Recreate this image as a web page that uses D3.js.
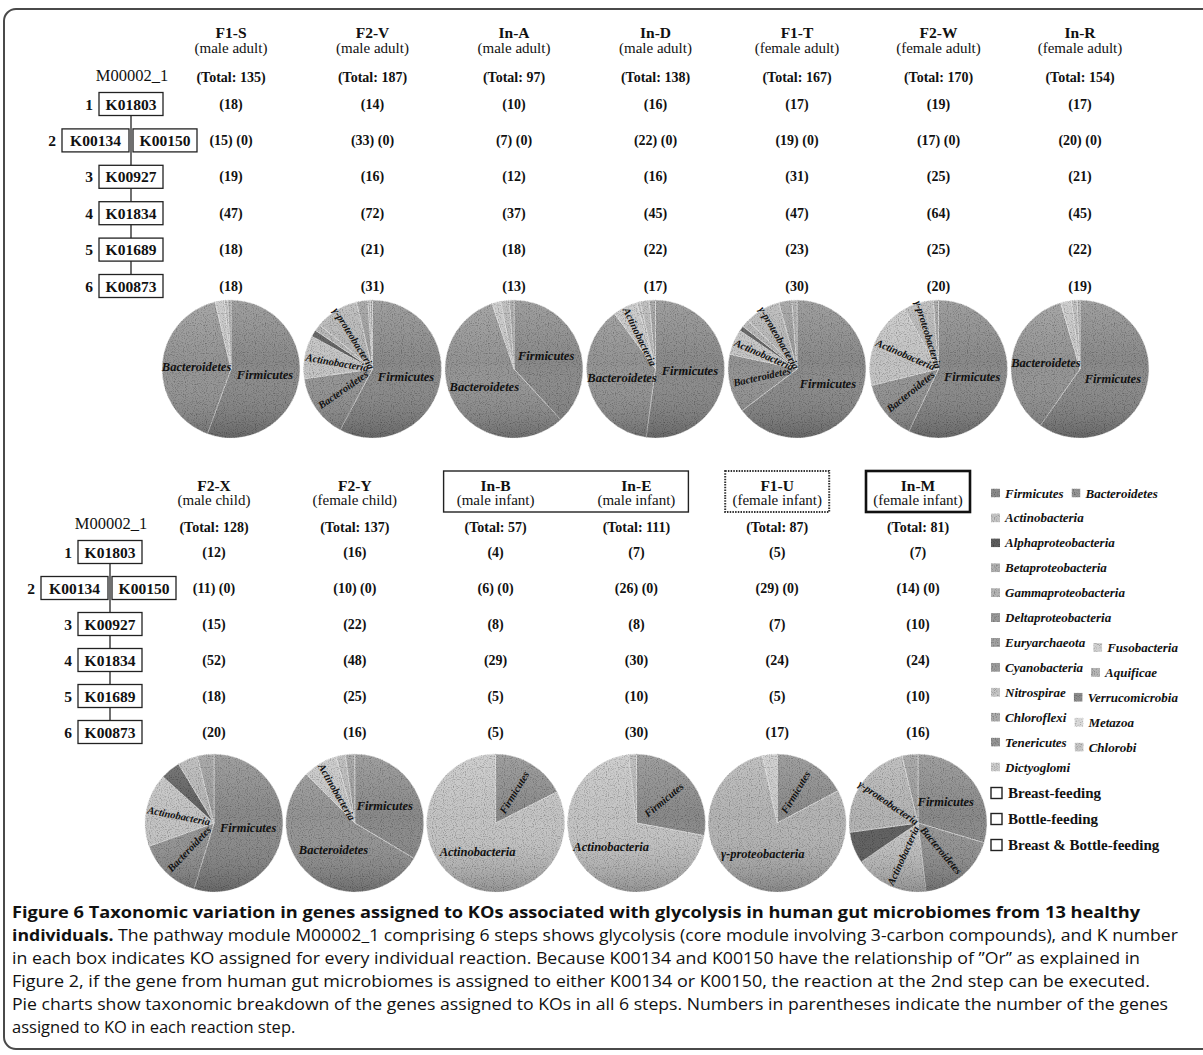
<!DOCTYPE html>
<html>
<head>
<meta charset="utf-8">
<script src="https://cdn.jsdelivr.net/npm/d3@7"></script>
<style>
  body { margin: 0; background: #fff; }
  svg { display: block; }
  text { font-family: "Liberation Serif", "Times New Roman", serif; fill: #111; }
  .cap { font-family: "Open Sans", "Noto Sans", sans-serif; font-size: 16.5px; }
</style>
</head>
<body>
<svg id="fig" width="1203" height="1055"></svg>
<script>
// ---- data ----
var phyla = ["Firmicutes", "Bacteroidetes", "Actinobacteria", "Alphaproteobacteria",
  "Betaproteobacteria", "Gammaproteobacteria", "Deltaproteobacteria", "Euryarchaeota",
  "Fusobacteria", "Cyanobacteria", "Aquificae", "Nitrospirae", "Verrucomicrobia",
  "Chloroflexi", "Metazoa", "Tenericutes", "Chlorobi", "Dictyoglomi"]
var shades = ["#8a8a8a", "#949494", "#c4c4c4", "#5e5e5e", "#b0b0b0", "#b4b4b4",
  "#9a9a9a", "#a2a2a2", "#d2d2d2", "#9d9d9d", "#b6b6b6", "#c6c6c6", "#8c8c8c",
  "#adadad", "#dadada", "#969696", "#c8c8c8", "#cdcdcd"]
var pieNames = {"Firmicutes": "Firmicutes", "Bacteroidetes": "Bacteroidetes",
  "Actinobacteria": "Actinobacteria", "Gammaproteobacteria": "\u03b3-proteobacteria"}

var stepKOs = [["K01803"], ["K00134", "K00150"], ["K00927"], ["K01834"], ["K01689"], ["K00873"]]

var topSamples = ["F1-S", "F2-V", "In-A", "In-D", "F1-T", "F2-W", "In-R"]
var topGroups = ["(male adult)", "(male adult)", "(male adult)", "(male adult)",
  "(female adult)", "(female adult)", "(female adult)"]
var topTotals = [135, 187, 97, 138, 167, 170, 154]
var topSteps = [
  ["(18)", "(15) (0)", "(19)", "(47)", "(18)", "(18)"],
  ["(14)", "(33) (0)", "(16)", "(72)", "(21)", "(31)"],
  ["(10)", "(7) (0)", "(12)", "(37)", "(18)", "(13)"],
  ["(16)", "(22) (0)", "(16)", "(45)", "(22)", "(17)"],
  ["(17)", "(19) (0)", "(31)", "(47)", "(23)", "(30)"],
  ["(19)", "(17) (0)", "(25)", "(64)", "(25)", "(20)"],
  ["(17)", "(20) (0)", "(21)", "(45)", "(22)", "(19)"]]
// gene counts per phylum (same order as phyla), estimated from the pies
var topTaxa = [
  [75, 55, 3, 0, 0, 1, 1, 0, 0, 0, 0, 0, 0, 0, 0, 0, 0, 0],
  [108, 28, 19, 3, 3, 19, 5, 1, 0, 1, 0, 0, 0, 0, 0, 0, 0, 0],
  [37, 55, 2, 0, 0, 2, 1, 0, 0, 0, 0, 0, 0, 0, 0, 0, 0, 0],
  [72, 52, 8, 0, 1, 3, 2, 0, 0, 0, 0, 0, 0, 0, 0, 0, 0, 0],
  [108, 23, 10, 2, 3, 14, 5, 2, 0, 0, 0, 0, 0, 0, 0, 0, 0, 0],
  [97, 24, 35, 0, 0, 12, 2, 0, 0, 0, 0, 0, 0, 0, 0, 0, 0, 0],
  [92, 55, 4, 0, 0, 2, 1, 0, 0, 0, 0, 0, 0, 0, 0, 0, 0, 0]]

var bottomSamples = ["F2-X", "F2-Y", "In-B", "In-E", "F1-U", "In-M"]
var bottomGroups = ["(male child)", "(female child)", "(male infant)", "(male infant)",
  "(female infant)", "(female infant)"]
var bottomTotals = [128, 137, 57, 111, 87, 81]
var bottomSteps = [
  ["(12)", "(11) (0)", "(15)", "(52)", "(18)", "(20)"],
  ["(16)", "(10) (0)", "(22)", "(48)", "(25)", "(16)"],
  ["(4)", "(6) (0)", "(8)", "(29)", "(5)", "(5)"],
  ["(7)", "(26) (0)", "(8)", "(30)", "(10)", "(30)"],
  ["(5)", "(29) (0)", "(7)", "(24)", "(5)", "(17)"],
  ["(7)", "(14) (0)", "(10)", "(24)", "(10)", "(16)"]]
var bottomTaxa = [
  [70, 19, 22, 6, 0, 6, 5, 0, 0, 0, 0, 0, 0, 0, 0, 0, 0, 0],
  [46, 74, 11, 0, 0, 3, 3, 0, 0, 0, 0, 0, 0, 0, 0, 0, 0, 0],
  [10, 0, 47, 0, 0, 0, 0, 0, 0, 0, 0, 0, 0, 0, 0, 0, 0, 0],
  [31, 0, 78, 0, 0, 2, 0, 0, 0, 0, 0, 0, 0, 0, 0, 0, 0, 0],
  [15, 0, 0, 0, 0, 69, 0, 0, 0, 0, 0, 0, 0, 0, 0, 0, 3, 0],
  [24, 15, 14, 6, 0, 19, 3, 0, 0, 0, 0, 0, 0, 0, 0, 0, 0, 0]]

var feeding = ["Breast-feeding", "Bottle-feeding", "Breast & Bottle-feeding"]
var feedGroups = [[2, 3], [4], [5]]   // bottom columns boxed per feeding type
var legendRows = [[0, 1], [2], [3], [4], [5], [6], [7, 8], [9, 10], [11, 12], [13, 14], [15, 16], [17]]

var captionBold = "Figure 6 Taxonomic variation in genes assigned to KOs associated with glycolysis in human gut microbiomes from 13 healthy"
var captionLines = [
  ["individuals.", " The pathway module M00002_1 comprising 6 steps shows glycolysis (core module involving 3-carbon compounds), and K number"],
  ["", "in each box indicates KO assigned for every individual reaction. Because K00134 and K00150 have the relationship of \u201dOr\u201d as explained in"],
  ["", "Figure 2, if the gene from human gut microbiomes is assigned to either K00134 or K00150, the reaction at the 2nd step can be executed."],
  ["", "Pie charts show taxonomic breakdown of the genes assigned to KOs in all 6 steps. Numbers in parentheses indicate the number of the genes"],
  ["", "assigned to KO in each reaction step."]]

// ---- drawing ----
var svg = d3.select("#fig")
var colour = d3.scaleOrdinal().domain(phyla).range(shades)

var defs = svg.append("defs")
var grad = defs.append("linearGradient").attr("id", "shine")
  .attr("x1", 0).attr("y1", 0).attr("x2", 0).attr("y2", 1)
grad.append("stop").attr("offset", "0%").attr("stop-color", "#fff").attr("stop-opacity", 0.2)
grad.append("stop").attr("offset", "45%").attr("stop-color", "#fff").attr("stop-opacity", 0)
grad.append("stop").attr("offset", "100%").attr("stop-color", "#000").attr("stop-opacity", 0.25)

// dithered look of the scanned pies
var grain = defs.append("filter").attr("id", "grain")
  .attr("x", "-5%").attr("y", "-5%").attr("width", "110%").attr("height", "110%")
grain.append("feTurbulence").attr("type", "fractalNoise").attr("baseFrequency", 0.9)
  .attr("numOctaves", 1).attr("seed", 4).attr("result", "noise")
grain.append("feColorMatrix").attr("in", "noise").attr("type", "matrix")
  .attr("values", "1.6 0 0 0 0.15  1.6 0 0 0 0.15  1.6 0 0 0 0.15  0 0 0 0 1")
  .attr("result", "gray")
grain.append("feBlend").attr("in", "SourceGraphic").attr("in2", "gray").attr("mode", "multiply").attr("result", "mix")
grain.append("feComposite").attr("in", "mix").attr("in2", "SourceGraphic").attr("operator", "in")

// outer frame
svg.append("rect").attr("x", 4).attr("y", 9).attr("width", 1230).attr("height", 1040)
  .attr("rx", 12).attr("fill", "none").attr("stroke", "#4a4a4a").attr("stroke-width", 2)

var pie = d3.pie().sort(null).value(function(d) { return d })
var R = 69
var arc = d3.arc().innerRadius(0).outerRadius(R)

function drawPathway(cx, rowY, titleY) {
  var g = svg.append("g")
  g.append("text").attr("x", cx + 1).attr("y", titleY).attr("text-anchor", "middle")
    .attr("dominant-baseline", "central").style("font-size", "16.5px").text("M00002_1")
  g.append("line").attr("x1", cx).attr("x2", cx).attr("y1", rowY(0)).attr("y2", rowY(5))
    .attr("stroke", "#222").attr("stroke-width", 1.3)
  stepKOs.forEach(function(kos, i) {
    var y = rowY(i), h = 23
    var boxes = kos.length == 1 ? [[cx - 32, 64]] : [[cx - 69, 67], [cx + 2, 64]]
    g.append("text").attr("x", boxes[0][0] - 10).attr("y", y).attr("text-anchor", "middle")
      .attr("dominant-baseline", "central").style("font-size", "15.5px").style("font-weight", "bold")
      .text(i + 1)
    kos.forEach(function(k, j) {
      g.append("rect").attr("x", boxes[j][0]).attr("y", y - h / 2).attr("width", boxes[j][1]).attr("height", h)
        .attr("fill", "#fff").attr("stroke", "#222").attr("stroke-width", 1.3)
      g.append("text").attr("x", boxes[j][0] + boxes[j][1] / 2).attr("y", y).attr("text-anchor", "middle")
        .attr("dominant-baseline", "central").style("font-size", "15.5px").style("font-weight", "bold").text(k)
    })
  })
}

function drawColumn(x, name, group, total, steps, taxa, ys, pieY) {
  var g = svg.append("g")
  g.append("text").attr("x", x).attr("y", ys.name).attr("text-anchor", "middle")
    .attr("dominant-baseline", "central").style("font-size", "15.5px").style("font-weight", "bold").text(name)
  g.append("text").attr("x", x).attr("y", ys.group).attr("text-anchor", "middle")
    .attr("dominant-baseline", "central").style("font-size", "15px").text(group)
  g.append("text").attr("x", x).attr("y", ys.total).attr("text-anchor", "middle")
    .attr("dominant-baseline", "central").style("font-size", "14px").style("font-weight", "bold")
    .text("(Total: " + total + ")")
  steps.forEach(function(s, i) {
    g.append("text").attr("x", x).attr("y", ys.row(i)).attr("text-anchor", "middle")
      .attr("dominant-baseline", "central").style("font-size", "14px").style("font-weight", "bold").text(s)
  })

  var p = svg.append("g").attr("transform", "translate(" + x + "," + pieY + ")")
  var slices = pie(taxa)
  var sum = d3.sum(taxa)
  var body = p.append("g").attr("filter", "url(#grain)")
  body.selectAll("path")
    .data(slices.filter(function(d) { return d.value > 0 }))
    .enter().append("path")
    .attr("d", arc)
    .attr("fill", function(d) { return colour(phyla[d.index]) })
    .attr("stroke", "#dcdcdc").attr("stroke-width", 0.6)
  body.append("circle").attr("r", R).attr("fill", "url(#shine)")

  slices.forEach(function(d) {
    var nm = pieNames[phyla[d.index]]
    var frac = d.value / sum
    if (!nm || frac < 0.05) return
    var a = (d.startAngle + d.endAngle) / 2
    var deg = a * 180 / Math.PI
    var t = p.append("text").attr("text-anchor", "middle").attr("dominant-baseline", "central")
      .style("font-weight", "bold").style("font-style", "italic").text(nm)
    if (frac >= 0.29) {
      var rr = R * 0.5
      t.attr("x", rr * Math.sin(a)).attr("y", -rr * Math.cos(a)).style("font-size", "12.5px")
    } else {
      var rr2 = R * 0.52
      var rot = deg < 180 ? deg - 90 : deg + 90
      t.attr("transform", "translate(" + (rr2 * Math.sin(a)) + "," + (-rr2 * Math.cos(a)) + ") rotate(" + rot + ")")
        .style("font-size", "10.5px")
    }
  })
}

// top panel
var topX = d3.scaleLinear().domain([0, topSamples.length - 1]).range([231, 1080])
var topRow = d3.scaleLinear().domain([0, 5]).range([104, 286])
drawPathway(131, topRow, 75)
topSamples.forEach(function(s, i) {
  drawColumn(topX(i), s, topGroups[i], topTotals[i], topSteps[i], topTaxa[i],
    {name: 32, group: 48, total: 77, row: topRow}, 369)
})

// bottom panel
var botX = d3.scaleLinear().domain([0, bottomSamples.length - 1]).range([214, 918])
var botRow = d3.scaleLinear().domain([0, 5]).range([552, 732])
drawPathway(110, botRow, 523)
bottomSamples.forEach(function(s, i) {
  drawColumn(botX(i), s, bottomGroups[i], bottomTotals[i], bottomSteps[i], bottomTaxa[i],
    {name: 485, group: 500, total: 527, row: botRow}, 823)
})

// boxes round infant headers (feeding type)
var feedStroke = [
  {w: 1.4, dash: null, c: "#222"},
  {w: 2, dash: "1.5,1.2", c: "#333"},
  {w: 2.6, dash: null, c: "#111"}]
feedGroups.forEach(function(cols, k) {
  var x0 = botX(cols[0]) - 52, x1 = botX(cols[cols.length - 1]) + 52
  svg.append("rect").attr("x", x0).attr("y", 471).attr("width", x1 - x0).attr("height", 41)
    .attr("fill", "none").attr("stroke", feedStroke[k].c).attr("stroke-width", feedStroke[k].w)
    .attr("stroke-dasharray", feedStroke[k].dash)
})

// legend
var leg = svg.append("g")
var legY = d3.scaleLinear().domain([0, legendRows.length - 1]).range([493, 767])
legendRows.forEach(function(row, r) {
  var x = 991
  row.forEach(function(idx, j) {
    var y = legY(r) + (j > 0 && r > 0 ? 5 : 0)
    leg.append("rect").attr("x", x).attr("y", y - 4.5).attr("width", 9).attr("height", 9)
      .attr("fill", colour(phyla[idx])).attr("filter", "url(#grain)")
    var t = leg.append("text").attr("x", x + 14).attr("y", y).attr("dominant-baseline", "central")
      .style("font-size", "13px").style("font-weight", "bold").style("font-style", "italic").text(phyla[idx])
    x = x + 14 + t.node().getComputedTextLength() + 8
  })
})
var feedY = d3.scaleLinear().domain([0, 2]).range([793, 845])
feeding.forEach(function(f, k) {
  leg.append("rect").attr("x", 991).attr("y", feedY(k) - 5.5).attr("width", 11).attr("height", 11)
    .attr("fill", "#fff").attr("stroke", "#222").attr("stroke-width", 1.4)
  leg.append("text").attr("x", 1008).attr("y", feedY(k)).attr("dominant-baseline", "central")
    .style("font-size", "15px").style("font-weight", "bold").text(f)
})

// caption
var capY = d3.scaleLinear().domain([0, 5]).range([918, 1033])
var capEnds = [1140, 1178, 1140, 1150, 1168, null]
var c0 = svg.append("text").attr("class", "cap").attr("x", 12).attr("y", capY(0))
  .style("font-weight", "bold").text(captionBold)
c0.attr("textLength", capEnds[0] - 12).attr("lengthAdjust", "spacingAndGlyphs")
captionLines.forEach(function(l, i) {
  var t = svg.append("text").attr("class", "cap").attr("x", 12).attr("y", capY(i + 1))
  if (l[0]) t.append("tspan").style("font-weight", "bold").text(l[0])
  t.append("tspan").text(l[1])
  if (capEnds[i + 1]) t.attr("textLength", capEnds[i + 1] - 12).attr("lengthAdjust", "spacingAndGlyphs")
})
</script>
</body>
</html>
